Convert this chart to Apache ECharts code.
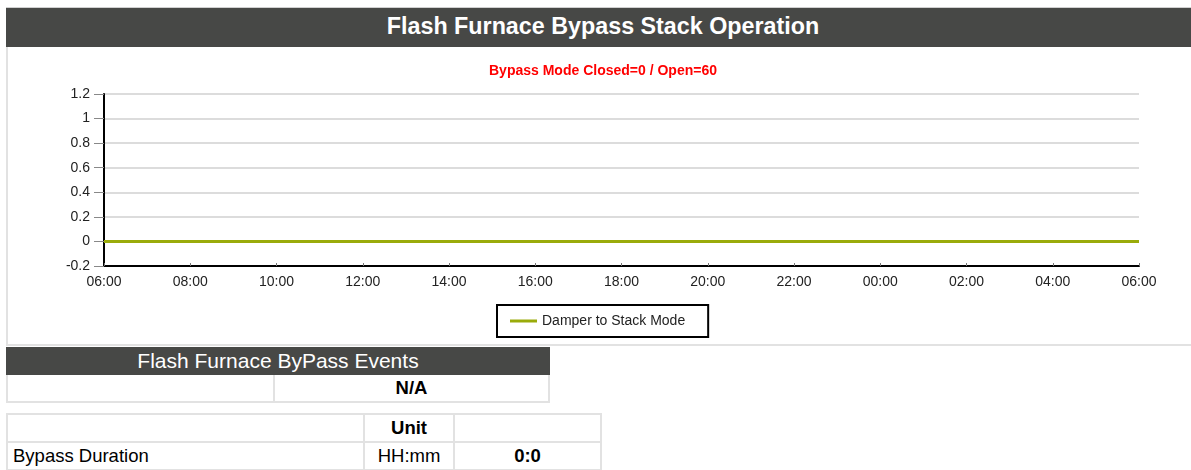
<!DOCTYPE html>
<html>
<head>
<meta charset="utf-8">
<script src="https://cdn.jsdelivr.net/npm/echarts@6/dist/echarts.min.js"></script>
<style>
  body { margin: 0; font-family: "Liberation Sans", Arial, sans-serif; overflow: hidden; width: 1191px; height: 470px; position: relative; background: #fff; }
  .header { position: absolute; left: 6px; top: 7px; width: 1194px; height: 40px; background: #474846; border-top: 1px solid #d0d0d0; box-sizing: border-box;
            color: #fff; font-weight: bold; font-size: 23.3px; text-align: center; line-height: 37px; }
  .box { position: absolute; left: 6px; top: 47px; width: 1194px; height: 299px; border-left: 2px solid #e2e2e2; border-bottom: 2px solid #e2e2e2; box-sizing: border-box; }
  #chart { position: absolute; left: 6px; top: 47px; width: 1194px; height: 298px; }
  table { position: absolute; border-collapse: collapse; font-size: 18.5px; color: #000; }
  td { border: 2px solid #e2e2e2; padding: 0 5px; height: 26px; }
  .t1 { left: 6px; top: 347px; width: 544px; }
  .t1 .hd { background: #474846; color: #fff; text-align: center; font-size: 21px; border-color: #474846; height: 24px; }
  .t2 { left: 6px; top: 413px; width: 596px; }
  .c { text-align: center; }
  .b { font-weight: bold; }
</style>
</head>
<body>
<div class="header">Flash Furnace Bypass Stack Operation</div>
<div class="box"></div>
<div id="chart"></div>
<table class="t1">
  <tr><td class="hd" colspan="2">Flash Furnace ByPass Events</td></tr>
  <tr><td style="width:255px"></td><td class="c b">N/A</td></tr>
</table>
<table class="t2">
  <tr><td style="width:345px"></td><td class="c b" style="width:78px">Unit</td><td></td></tr>
  <tr><td>Bypass Duration</td><td class="c">HH:mm</td><td class="c b">0:0</td></tr>
</table>
<script>
// time of day, every 2 hours across 24h
const hours = ['06:00', '08:00', '10:00', '12:00', '14:00', '16:00', '18:00',
  '20:00', '22:00', '00:00', '02:00', '04:00', '06:00'];
// damper state (Closed=0 / Open=60)
const damperValues = [0, 0, 0, 0, 0, 0, 0, 0, 0, 0, 0, 0, 0];
const seriesName = 'Damper to Stack Mode';

const myChart = echarts.init(document.getElementById('chart'));

const option = {
  animation: false,
  title: {
    text: 'Bypass Mode Closed=0 / Open=60',
    left: 'center',
    top: 12,
    textStyle: { color: '#ff0000', fontSize: 14, fontWeight: 'bold', fontFamily: 'Liberation Sans' }
  },
  legend: {
    data: [{ name: seriesName, icon: 'rect' }],
    left: 491,
    top: 258,
    borderColor: '#000',
    borderWidth: 2,
    padding: [8, 23, 8, 13],
    itemWidth: 27,
    itemHeight: 3,
    itemGap: 7,
    textStyle: { fontSize: 14, color: '#222', fontFamily: 'Liberation Sans', lineHeight: 16 }
  },
  grid: { left: 98, right: 61, top: 47, bottom: 79 },
  xAxis: {
    type: 'category',
    data: hours,
    boundaryGap: false,
    axisLine: { onZero: false, lineStyle: { color: '#000', width: 2 } },
    axisTick: { show: true, length: 3, inside: true, lineStyle: { color: '#777' } },
    axisLabel: { color: '#222', fontSize: 14, margin: 9, fontFamily: 'Liberation Sans', interval: 0 },
    splitLine: { show: false }
  },
  yAxis: {
    type: 'value',
    min: -0.2,
    max: 1.2,
    interval: 0.2,
    axisLine: { show: true, lineStyle: { color: '#000', width: 2 } },
    axisTick: { show: true, length: 10, lineStyle: { color: '#888' } },
    axisLabel: { color: '#222', fontSize: 14, margin: 14, fontFamily: 'Liberation Sans',
      formatter: v => String(Math.round(v * 10) / 10) },
    splitLine: { lineStyle: { color: '#dcdcdc', width: 2 } }
  },
  series: [
    {
      name: seriesName,
      type: 'line',
      data: damperValues,
      symbol: 'none',
      lineStyle: { color: '#9aab0a', width: 3 },
      itemStyle: { color: '#9aab0a' }
    }
  ]
};

myChart.setOption(option);
</script>
</body>
</html>
